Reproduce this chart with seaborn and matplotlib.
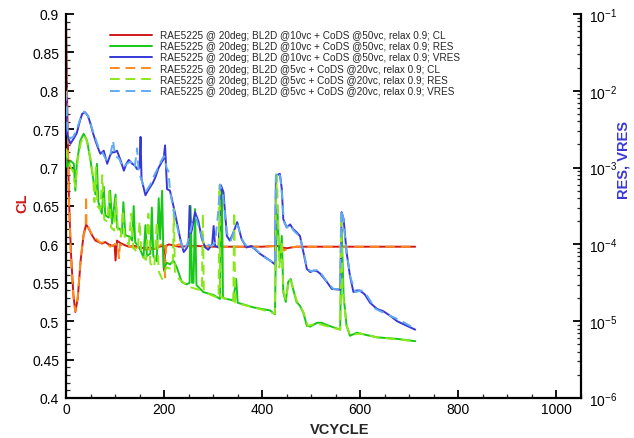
import numpy as np
import pandas as pd
import matplotlib
matplotlib.use("Agg")
import matplotlib.pyplot as plt
import seaborn as sns
from matplotlib.ticker import MultipleLocator, LogLocator, LogFormatterMathtext, NullFormatter

sns.set_style("ticks")
plt.rcParams['font.family'] = ['Liberation Sans', 'DejaVu Sans']
plt.rcParams['mathtext.fontset'] = 'custom'
plt.rcParams['mathtext.rm'] = 'Liberation Sans'
plt.rcParams['mathtext.it'] = 'Liberation Sans'
plt.rcParams['mathtext.bf'] = 'Liberation Sans:bold'

# ---------------- data ----------------
labels = [
    "RAE5225 @ 20deg; BL2D @10vc + CoDS @50vc, relax 0.9; CL",
    "RAE5225 @ 20deg; BL2D @10vc + CoDS @50vc, relax 0.9; RES",
    "RAE5225 @ 20deg; BL2D @10vc + CoDS @50vc, relax 0.9; VRES",
    "RAE5225 @ 20deg; BL2D @5vc + CoDS @20vc, relax 0.9; CL",
    "RAE5225 @ 20deg; BL2D @5vc + CoDS @20vc, relax 0.9; RES",
    "RAE5225 @ 20deg; BL2D @5vc + CoDS @20vc, relax 0.9; VRES",
]

# CL, run A (10vc / 50vc)
cl_a_vc = [0, 3, 6, 10, 15, 19, 24, 30, 36, 41, 47, 53, 60, 67, 73, 80, 87, 95, 99, 101, 104, 110, 120, 128, 140, 150, 160, 170, 180, 190, 198, 200, 203, 210, 230, 260, 300, 350, 400, 430, 440, 450, 470, 500, 600, 712]
cl_a = [0.89, 0.76, 0.66, 0.59, 0.535, 0.512, 0.53, 0.58, 0.613, 0.626, 0.62, 0.612, 0.605, 0.603, 0.601, 0.603, 0.6, 0.598, 0.6, 0.579, 0.605, 0.602, 0.599, 0.597, 0.598, 0.596, 0.595, 0.596, 0.594, 0.597, 0.598, 0.565, 0.598, 0.6, 0.597, 0.598, 0.597, 0.597, 0.597, 0.598, 0.596, 0.595, 0.597, 0.597, 0.597, 0.597]

# CL, run B (5vc / 20vc)
cl_b_vc = [0, 3, 6, 10, 15, 19, 24, 30, 36, 40, 41, 42, 46, 55, 62, 70, 80, 90, 100, 106, 108, 110, 120, 140, 160, 180, 195, 200, 202, 204, 210, 230, 260, 300, 350, 400, 430, 436, 445, 455, 470, 500, 600, 712]
cl_b = [0.885, 0.75, 0.655, 0.585, 0.532, 0.513, 0.532, 0.582, 0.612, 0.62, 0.663, 0.62, 0.622, 0.61, 0.607, 0.602, 0.603, 0.597, 0.6, 0.6, 0.582, 0.6, 0.598, 0.596, 0.593, 0.594, 0.6, 0.598, 0.557, 0.598, 0.595, 0.6, 0.597, 0.597, 0.597, 0.597, 0.598, 0.6, 0.592, 0.596, 0.597, 0.597, 0.597, 0.597]

# RES, run A  (log10 of residual, read on the right axis)
res_a_vc = [0, 2, 9, 16, 19, 22, 29, 36, 43, 50, 56, 60, 63, 66, 73, 77, 80, 87, 90, 94, 101, 104, 110, 114, 117, 121, 130, 135, 138, 141, 150, 158, 162, 165, 172, 175, 178, 185, 189, 192, 196, 199, 206, 212, 219, 226, 236, 246, 252, 254, 257, 260, 263, 266, 280, 301, 314, 316, 318, 320, 321, 341, 347, 350, 382, 416, 426, 428, 431, 434, 436, 440, 443, 448, 453, 458, 463, 470, 477, 484, 491, 498, 512, 521, 532, 559, 562, 566, 572, 579, 593, 606, 634, 675, 712]
res_a_log = [-2.85, -2.99, -2.91, -2.95, -3.30, -2.95, -2.65, -2.56, -2.65, -2.91, -3.17, -3.35, -2.95, -3.45, -3.60, -3.25, -3.62, -3.65, -3.30, -3.73, -3.35, -3.78, -3.80, -3.86, -3.45, -3.88, -3.90, -3.95, -3.50, -3.97, -4.05, -4.17, -3.75, -4.15, -4.12, -3.52, -4.15, -4.22, -3.40, -3.93, -3.30, -4.30, -4.24, -4.26, -4.21, -4.30, -4.49, -4.52, -4.50, -3.50, -4.50, -4.50, -3.54, -4.53, -4.62, -4.66, -4.71, -3.50, -3.28, -4.68, -4.70, -4.73, -4.45, -4.76, -4.82, -4.86, -4.91, -4.02, -3.50, -4.02, -4.23, -3.89, -4.62, -4.75, -4.49, -4.45, -4.58, -4.75, -4.80, -4.89, -5.06, -5.07, -5.02, -5.02, -5.05, -5.11, -3.80, -4.67, -5.06, -5.19, -5.15, -5.17, -5.21, -5.23, -5.26]

# VRES, run A
vres_a_vc = [0, 2, 9, 16, 22, 28, 33, 39, 45, 50, 55, 60, 65, 70, 77, 84, 90, 94, 99, 104, 111, 118, 123, 128, 135, 140, 145, 150, 152, 154, 162, 167, 172, 177, 182, 189, 195, 199, 202, 206, 212, 219, 226, 233, 240, 246, 250, 252, 255, 257, 263, 270, 277, 284, 290, 298, 301, 304, 311, 314, 316, 321, 328, 334, 341, 349, 358, 368, 378, 395, 416, 426, 428, 430, 436, 440, 443, 450, 457, 463, 470, 477, 484, 491, 498, 505, 512, 518, 532, 542, 559, 562, 566, 572, 579, 586, 593, 599, 609, 620, 634, 647, 661, 675, 695, 712]
vres_a_log = [-2.10, -2.56, -2.69, -2.62, -2.55, -2.40, -2.30, -2.28, -2.33, -2.43, -2.55, -2.65, -2.74, -2.82, -2.78, -2.95, -2.84, -2.80, -2.80, -2.78, -2.90, -3.04, -2.95, -2.90, -2.95, -2.97, -3.02, -3.00, -2.60, -3.15, -3.36, -3.30, -3.25, -3.20, -3.13, -3.00, -2.93, -2.89, -2.71, -3.28, -3.30, -3.50, -3.71, -3.93, -4.10, -4.05, -3.95, -3.50, -3.85, -3.80, -3.58, -3.70, -3.93, -4.04, -4.07, -4.00, -3.76, -4.02, -4.04, -3.60, -3.23, -3.32, -3.89, -3.95, -3.85, -3.71, -3.93, -4.04, -4.02, -4.12, -4.21, -4.26, -3.15, -3.10, -3.08, -3.28, -3.67, -3.78, -3.74, -3.80, -3.84, -3.89, -4.10, -4.32, -4.36, -4.34, -4.35, -4.38, -4.49, -4.58, -4.59, -3.58, -3.67, -4.10, -4.41, -4.62, -4.60, -4.60, -4.65, -4.76, -4.84, -4.87, -4.93, -5.00, -5.06, -5.11]

# RES, run B
res_b_vc = [0, 3, 8, 14, 19, 24, 30, 36, 42, 49, 55, 58, 61, 64, 70, 74, 78, 85, 88, 92, 98, 102, 106, 112, 116, 120, 128, 133, 137, 146, 150, 154, 163, 168, 172, 180, 185, 189, 196, 200, 206, 214, 218, 220, 222, 230, 240, 250, 265, 277, 279, 281, 300, 311, 313, 315, 330, 341, 343, 345, 370, 400, 426, 428, 430, 432, 435, 440, 443, 448, 455, 460, 470, 484, 493, 512, 535, 559, 561, 564, 572, 579, 600, 634, 712]
res_b_log = [-2.75, -2.88, -2.97, -3.05, -3.25, -2.90, -2.68, -2.58, -2.64, -2.85, -3.10, -3.45, -3.00, -3.50, -3.55, -3.10, -3.68, -3.70, -3.28, -3.78, -3.82, -3.40, -3.85, -3.90, -3.55, -3.95, -4.00, -3.60, -4.05, -4.10, -3.70, -4.15, -4.20, -3.60, -4.25, -4.30, -3.70, -4.35, -4.45, -4.35, -4.30, -4.32, -4.20, -3.54, -4.35, -4.45, -4.50, -4.55, -4.58, -4.60, -3.60, -4.62, -4.67, -4.70, -3.23, -4.68, -4.72, -4.74, -3.58, -4.76, -4.80, -4.85, -4.90, -3.50, -3.10, -3.60, -4.30, -3.95, -4.60, -4.72, -4.45, -4.50, -4.73, -4.88, -5.06, -5.03, -5.07, -5.11, -3.60, -4.60, -5.05, -5.18, -5.16, -5.21, -5.26]

# VRES, run B
vres_b_vc = [0, 3, 8, 15, 22, 30, 37, 45, 52, 60, 67, 74, 82, 90, 96, 100, 108, 116, 124, 132, 140, 145, 148, 156, 164, 172, 180, 188, 195, 200, 205, 209, 212, 219, 226, 233, 240, 247, 253, 258, 265, 272, 280, 288, 296, 304, 310, 314, 320, 328, 336, 344, 350, 360, 370, 385, 400, 426, 428, 432, 437, 441, 444, 450, 457, 464, 477, 485, 492, 500, 515, 530, 545, 559, 561, 565, 572, 580, 590, 603, 614, 631, 654, 682, 712]
vres_b_log = [-2.00, -2.50, -2.62, -2.60, -2.50, -2.35, -2.27, -2.33, -2.47, -2.62, -2.75, -2.80, -2.90, -2.85, -2.65, -2.85, -2.88, -3.00, -2.95, -2.92, -3.00, -2.75, -3.05, -3.20, -3.30, -3.22, -3.10, -3.00, -2.90, -2.85, -3.00, -3.05, -3.30, -3.55, -3.75, -3.95, -4.08, -4.00, -3.85, -3.70, -3.65, -3.80, -3.95, -4.00, -4.02, -3.98, -3.60, -3.22, -3.35, -3.85, -3.95, -3.80, -3.75, -3.95, -4.04, -4.05, -4.15, -4.25, -3.10, -3.05, -3.12, -3.40, -3.70, -3.78, -3.74, -3.82, -3.90, -4.12, -4.32, -4.35, -4.33, -4.47, -4.58, -4.58, -3.55, -3.65, -4.10, -4.43, -4.62, -4.60, -4.67, -4.84, -4.91, -4.99, -5.10]

colors = ["#d01818", "#18c818", "#3838d8", "#ff8a1c", "#8ae81a", "#62aaf2"]

# ---------------- figure ----------------
fig = plt.figure(figsize=(6.34, 4.39), dpi=100)
ax = fig.add_axes([66/634, 1 - 399/439, (581-66)/634, (399-15)/439])
ax2 = ax.twinx()

lw = 1.4
dash = (0, (5, 3))

sns.lineplot(x=cl_a_vc, y=cl_a, ax=ax, color=colors[0], lw=lw, estimator=None, sort=False, label=labels[0])
sns.lineplot(x=cl_b_vc, y=cl_b, ax=ax, color=colors[3], lw=lw, estimator=None, sort=False, linestyle=dash, label=labels[3])

sns.lineplot(x=res_a_vc, y=10.0 ** np.array(res_a_log), ax=ax2, color=colors[1], lw=lw, estimator=None, sort=False, label=labels[1])
sns.lineplot(x=vres_a_vc, y=10.0 ** np.array(vres_a_log), ax=ax2, color=colors[2], lw=lw, estimator=None, sort=False, label=labels[2])
sns.lineplot(x=res_b_vc, y=10.0 ** np.array(res_b_log), ax=ax2, color=colors[4], lw=lw, estimator=None, sort=False, linestyle=dash, label=labels[4])
sns.lineplot(x=vres_b_vc, y=10.0 ** np.array(vres_b_log), ax=ax2, color=colors[5], lw=lw, estimator=None, sort=False, linestyle=dash, label=labels[5])

for a in (ax, ax2):
    if a.get_legend() is not None:
        a.get_legend().remove()

ax.set_xlim(0, 1050)
ax.set_ylim(0.4, 0.9)
ax2.set_yscale("log")
ax2.set_ylim(1e-6, 1e-1)

ax.xaxis.set_major_locator(MultipleLocator(200))
ax.xaxis.set_minor_locator(MultipleLocator(50))
ax.yaxis.set_major_locator(MultipleLocator(0.05))
ax.yaxis.set_minor_locator(MultipleLocator(0.01))
ax.yaxis.set_major_formatter(matplotlib.ticker.FuncFormatter(lambda v, p: f"{v:.2f}".rstrip("0").rstrip(".")))
ax2.yaxis.set_major_locator(LogLocator(base=10, numticks=10))
ax2.yaxis.set_minor_locator(LogLocator(base=10, subs=np.arange(2, 10), numticks=20))
ax2.yaxis.set_major_formatter(LogFormatterMathtext())
ax2.yaxis.set_minor_formatter(NullFormatter())

for a in (ax, ax2):
    a.tick_params(which="major", direction="in", length=6, width=1.3, labelsize=10, colors="black")
    a.tick_params(which="minor", direction="in", length=3, width=0.9)
    a.spines["top"].set_visible(False)
    for s in a.spines.values():
        s.set_linewidth(1.6)
        s.set_color("black")
ax.tick_params(axis="y", which="major", pad=5)
ax.tick_params(axis="x", which="major", pad=3)
ax2.tick_params(axis="y", which="major", pad=6, labelsize=10)
ax.spines["right"].set_visible(False)
ax2.spines["left"].set_visible(False)
ax2.spines["bottom"].set_visible(False)

ax.set_xlabel("")
ax.set_ylabel("")
ax2.set_ylabel("")
fig.text(340/634, 1 - 430/439, "VCYCLE", ha="center", va="center", fontsize=10.5, fontweight="bold")
fig.text(22/634, 1 - 203/439, "CL", ha="center", va="center", rotation=90, fontsize=10.5, fontweight="bold", color="#d01818")
fig.text(624/634, 1 - 160/439, "RES, VRES", ha="center", va="center", rotation=90, fontsize=10.5, fontweight="bold", color="#3838d8")

h1, l1 = ax.get_legend_handles_labels()
h2, l2 = ax2.get_legend_handles_labels()
hd = dict(zip(l1 + l2, h1 + h2))
handles = [hd[l] for l in labels]
fig.legend(handles, labels, loc="upper left", bbox_to_anchor=(110/634, 1 - 31/439),
           frameon=False, fontsize=7.2, handlelength=4.2, handletextpad=0.8,
           labelspacing=0.12, borderpad=0, borderaxespad=0)

fig.savefig("out.png", dpi=100)
